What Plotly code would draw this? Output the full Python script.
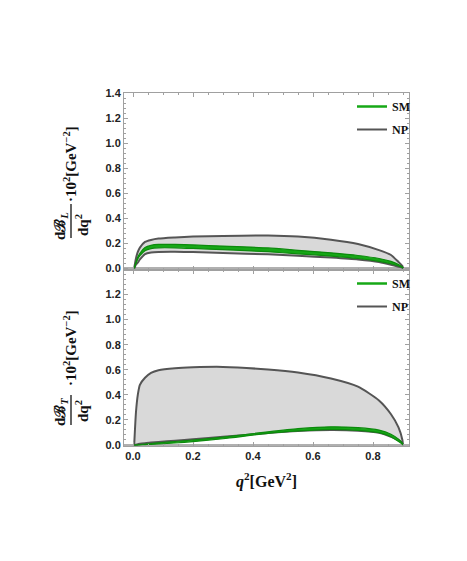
import plotly.graph_objects as go
from plotly.subplots import make_subplots

# q^2 grid [GeV^2]
q2 = [0.004, 0.01, 0.016, 0.023, 0.04, 0.06, 0.085, 0.14, 0.2, 0.3, 0.45,
      0.55, 0.66, 0.75, 0.82, 0.86, 0.885, 0.898, 0.9]

# longitudinal dB_L/dq^2 x 10^2
np_up_L = [0.0, 0.08, 0.13, 0.165, 0.21, 0.226, 0.237, 0.246, 0.253, 0.258, 0.261,
           0.253, 0.228, 0.194, 0.145, 0.106, 0.05, 0.018, 0.0]
np_lo_L = [0.0, 0.03, 0.045, 0.07, 0.112, 0.125, 0.13, 0.131, 0.129, 0.122, 0.111,
           0.1, 0.085, 0.07, 0.05, 0.028, 0.012, 0.003, 0.0]
sm_up_L = [0.0, 0.05, 0.09, 0.12, 0.165, 0.183, 0.19, 0.19, 0.186, 0.177, 0.162,
           0.143, 0.123, 0.102, 0.078, 0.055, 0.03, 0.01, 0.0]
sm_lo_L = [0.0, 0.04, 0.075, 0.1, 0.14, 0.157, 0.163, 0.163, 0.158, 0.148, 0.132,
           0.115, 0.097, 0.078, 0.055, 0.036, 0.018, 0.005, 0.0]

# transverse dB_T/dq^2 x 10^2
np_up_T = [0.0, 0.265, 0.4, 0.48, 0.536, 0.575, 0.597, 0.613, 0.62, 0.623, 0.602,
           0.578, 0.53, 0.465, 0.355, 0.245, 0.14, 0.04, 0.0]
np_lo_T = [0.0, 0.003, 0.006, 0.01, 0.015, 0.019, 0.024, 0.034, 0.045, 0.065, 0.095,
           0.111, 0.119, 0.114, 0.098, 0.066, 0.04, 0.012, 0.0]
sm_up_T = [0.0, 0.0, 0.002, 0.004, 0.008, 0.012, 0.017, 0.028, 0.04, 0.063, 0.105,
           0.13, 0.145, 0.138, 0.119, 0.086, 0.046, 0.015, 0.0]
sm_lo_T = [0.0, 0.0, 0.0, 0.001, 0.003, 0.005, 0.008, 0.016, 0.027, 0.05, 0.093,
           0.112, 0.125, 0.117, 0.098, 0.066, 0.027, 0.008, 0.0]

GRAY_FILL = '#d9d9d9'
NP_COLOR = '#555555'
SM_COLOR = '#16a816'
SM_EDGE = '#0c8a0c'

# page has an 8px body margin
OFF = 8
W, H = 467 - 2 * OFF, 561 - 2 * OFF
L, T = 124 - OFF, 93 - OFF
R = W - (409 - OFF)
B = H - (446 - OFF)


def px2x(px):
    return (px - OFF - L) / (W - L - R)


def py2y(py):
    return (H - B - (py - OFF)) / (H - T - B)


fig = make_subplots(rows=2, cols=1, shared_xaxes=True, vertical_spacing=0)


def add_panel(row, up, lo, smu, sml, legend):
    line_shape = dict(shape='spline', smoothing=0.6)
    # NP band
    fig.add_trace(go.Scatter(x=q2, y=lo, mode='lines', line=dict(width=0, **line_shape),
                             showlegend=False, hoverinfo='skip'), row=row, col=1)
    fig.add_trace(go.Scatter(x=q2, y=up, mode='lines', line=dict(width=0, **line_shape),
                             fill='tonexty', fillcolor=GRAY_FILL,
                             showlegend=False, hoverinfo='skip'), row=row, col=1)
    fig.add_trace(go.Scatter(x=q2, y=lo, mode='lines',
                             line=dict(color=NP_COLOR, width=2, **line_shape),
                             showlegend=False), row=row, col=1)
    fig.add_trace(go.Scatter(x=q2, y=up, mode='lines', name='<b>NP</b>',
                             line=dict(color=NP_COLOR, width=2, **line_shape),
                             legend=legend, legendgroup='np' + legend, legendrank=2),
                  row=row, col=1)
    # SM band
    fig.add_trace(go.Scatter(x=q2, y=sml, mode='lines',
                             line=dict(color=SM_EDGE, width=1.2, **line_shape),
                             showlegend=False), row=row, col=1)
    fig.add_trace(go.Scatter(x=q2, y=smu, mode='lines',
                             line=dict(color=SM_EDGE, width=1.2, **line_shape),
                             fill='tonexty', fillcolor=SM_COLOR,
                             showlegend=False), row=row, col=1)
    # legend entry for SM
    fig.add_trace(go.Scatter(x=[None], y=[None], mode='lines', name='<b>SM</b>',
                             line=dict(color=SM_COLOR, width=2.5),
                             legend=legend, legendgroup='sm' + legend, legendrank=1),
                  row=row, col=1)


add_panel(1, np_up_L, np_lo_L, sm_up_L, sm_lo_L, 'legend')
add_panel(2, np_up_T, np_lo_T, sm_up_T, sm_lo_T, 'legend2')

tick_font = dict(family='Liberation Sans', size=11, color='#222', weight='bold')
axis_common = dict(showline=True, mirror='ticks', linecolor='#a0a0a0', linewidth=1,
                   ticks='inside', ticklen=4, tickcolor='#a0a0a0', showgrid=False,
                   tickfont=tick_font)

fig.update_xaxes(range=[-0.03, 0.92], dtick=0.2, tickformat='.1f', zeroline=False,
                 minor=dict(ticks='inside', ticklen=2, dtick=0.05, tickcolor='#a0a0a0'),
                 **axis_common)
fig.update_xaxes(showticklabels=False, row=1, col=1)
fig.update_xaxes(title=dict(text='<b><i>q</i><sup>2</sup>[GeV<sup>2</sup>]</b>', standoff=14,
                            font=dict(family='Liberation Serif', size=16, color='#111')),
                 row=2, col=1)
fig.update_yaxes(dtick=0.2, tickformat='.1f', zeroline=True, zerolinecolor='#b0b0b0',
                 zerolinewidth=2,
                 minor=dict(ticks='inside', ticklen=2, dtick=0.04, tickcolor='#a0a0a0'),
                 **axis_common)
fig.update_yaxes(range=[-0.01, 1.4], row=1, col=1)
fig.update_yaxes(range=[-0.008, 1.4], tickvals=[0, 0.2, 0.4, 0.6, 0.8, 1.0, 1.2],
                 row=2, col=1)

legend_style = dict(font=dict(family='Liberation Serif', size=12, color='#111'),
                    bgcolor='rgba(0,0,0,0)', tracegroupgap=4, xanchor='left',
                    yanchor='top', traceorder='grouped')
fig.update_layout(
    width=W, height=H,
    margin=dict(l=L, r=R, t=T, b=B, autoexpand=False),
    paper_bgcolor='white', plot_bgcolor='white',
    legend=dict(x=px2x(352), y=py2y(92), **legend_style),
    legend2=dict(x=px2x(352), y=py2y(269), **legend_style),
)

# y-axis labels built as a fraction
label_font = dict(family='Liberation Serif', size=15, color='#111')
panels = [('L', 226, 204, 238, 225, 164), ('T', 412, 395, 425, 411, 348)]
for name, num_y, bar_top, bar_bot, den_y, suf_y in panels:
    common = dict(xref='paper', yref='paper', xanchor='center', yanchor='middle',
                  textangle=-90, showarrow=False, font=label_font)
    fig.add_annotation(text='<b>d\u212c<sub><i>%s</i></sub></b>' % name,
                       x=px2x(61), y=py2y(num_y), **common)
    fig.add_annotation(text='<b>dq<sup>2</sup></b>',
                       x=px2x(82), y=py2y(den_y), **common)
    fig.add_annotation(text='<b>\u00b710<sup>2</sup>[GeV<sup>\u22122</sup>]</b>',
                       x=px2x(70), y=py2y(suf_y), **common)
    fig.add_shape(type='line', xref='paper', yref='paper',
                  x0=px2x(71), x1=px2x(71), y0=py2y(bar_top), y1=py2y(bar_bot),
                  line=dict(color='#111', width=1.3))

fig.write_html("out.html")
